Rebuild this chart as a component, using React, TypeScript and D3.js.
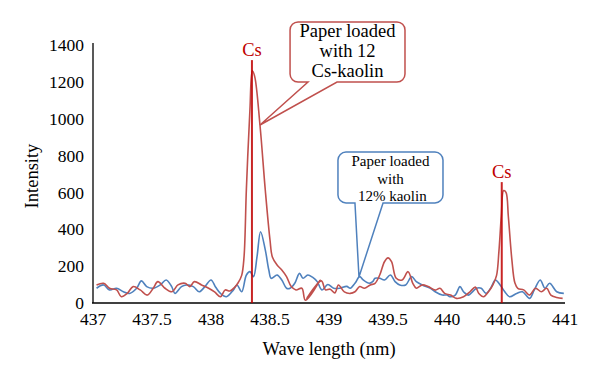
import React from "react";
import * as d3 from "d3";

const xTicks = [437, 437.5, 438, 438.5, 439, 439.5, 440, 440.5, 441];
const yTicks = [0, 200, 400, 600, 800, 1000, 1200, 1400];

// Paper loaded with 12 Cs-kaolin (red)
const redSeries: [number, number][] = [
  [437.03, 98], [437.09, 107], [437.14, 80], [437.2, 71], [437.24, 34], [437.29, 52],
  [437.34, 89], [437.4, 71], [437.46, 43], [437.51, 80], [437.55, 116], [437.61, 80],
  [437.67, 61], [437.72, 98], [437.78, 107], [437.82, 89], [437.86, 116], [437.92, 98],
  [437.98, 80], [438.03, 60], [438.08, 34], [438.12, 71], [438.16, 65], [438.2, 85],
  [438.23, 110], [438.26, 150], [438.28, 250], [438.3, 620], [438.33, 1050], [438.35, 1260],
  [438.37, 1230], [438.415, 966], [438.46, 613], [438.5, 342], [438.52, 250], [438.56, 206],
  [438.6, 179], [438.64, 143], [438.68, 89], [438.72, 71], [438.77, 80],
  [438.8, 15], [438.925, 125], [438.81, 25], [438.935, 120],
  [438.97, 71], [439.01, 75], [439.05, 55], [439.08, 98], [439.13, 60], [439.18, 52],
  [439.22, 61], [439.26, 89], [439.3, 80], [439.35, 98], [439.39, 107], [439.43, 152],
  [439.47, 224], [439.5, 245], [439.53, 224], [439.57, 134], [439.62, 125], [439.67, 170],
  [439.71, 107], [439.74, 80], [439.79, 98], [439.84, 89], [439.9, 70], [439.94, 80],
  [439.98, 52], [440.03, 43], [440.08, 25], [440.14, 34], [440.195, 61], [440.24, 86],
  [440.27, 52], [440.31, 34], [440.35, 60], [440.39, 100], [440.42, 150], [440.44, 280],
  [440.46, 470], [440.48, 610], [440.5, 600], [440.52, 468], [440.55, 233], [440.575, 110],
  [440.6, 80], [440.65, 71], [440.7, 43], [440.75, 80], [440.8, 61], [440.845, 80],
  [440.88, 43], [440.93, 30], [440.98, 25],
];

// Paper loaded with 12% kaolin (blue)
const blueSeries: [number, number][] = [
  [437.03, 80], [437.09, 98], [437.14, 71], [437.2, 80], [437.257, 61], [437.31, 52],
  [437.37, 80], [437.41, 120], [437.455, 89], [437.51, 80], [437.57, 98], [437.62, 125],
  [437.667, 89], [437.695, 52], [437.75, 89], [437.79, 98], [437.85, 89], [437.9, 61],
  [437.95, 90], [438.0, 125], [438.04, 85], [438.08, 52], [438.13, 34], [438.19, 71],
  [438.22, 98], [438.26, 61], [438.3, 152], [438.33, 170], [438.36, 143], [438.39, 251],
  [438.42, 387], [438.46, 288], [438.49, 179], [438.51, 134], [438.56, 152], [438.6, 125],
  [438.64, 80], [438.67, 80], [438.71, 107], [438.75, 161], [438.78, 134], [438.82, 152],
  [438.86, 140], [438.9, 116], [438.94, 71], [438.99, 100], [439.04, 80], [439.09, 80],
  [439.15, 90], [439.18, 80], [439.22, 107], [439.26, 143], [439.29, 125], [439.34, 107],
  [439.37, 116], [439.39, 134], [439.43, 134], [439.47, 125], [439.52, 152], [439.56, 116],
  [439.6, 98], [439.65, 98], [439.7, 143], [439.74, 116], [439.79, 98], [439.86, 80],
  [439.9, 61], [439.96, 43], [440.0, 43], [440.025, 34], [440.07, 43], [440.11, 89],
  [440.14, 61], [440.18, 43], [440.25, 80], [440.29, 80], [440.33, 52], [440.37, 80],
  [440.41, 125], [440.45, 98], [440.49, 61], [440.53, 34], [440.59, 52], [440.64, 61],
  [440.7, 25], [440.74, 71], [440.79, 125], [440.83, 80], [440.87, 107], [440.93, 61],
  [440.99, 52],
];

// Cs marker lines: wavelength, top intensity
const csLines: [number, number][] = [
  [438.347, 1318],
  [440.464, 656],
];

// Callouts: box [x0, x1, yTop, yBottom], pointer base [xa, xb], tip [x, y]
const redCallout = {
  box: [438.67, 439.644, 1525, 1199],
  base: [438.822, 439.068],
  tip: [438.415, 966],
  lines: ["Paper loaded", "with 12", "Cs-kaolin"],
};
const blueCallout = {
  box: [439.076, 439.966, 819, 543],
  base: [439.22, 439.458],
  tip: [439.254, 141],
  lines: ["Paper loaded", "with", " 12% kaolin"],
};

const W = 600;
const H = 381;
const FONT = "Liberation Serif, DejaVu Serif, serif";
const RED = "#c0504d";
const BLUE = "#4f81bd";
const DARKRED = "#c00000";

export default function App() {
  const x = d3.scaleLinear().domain([437, 441]).range([93, 565]);
  const y = d3.scaleLinear().domain([0, 1400]).range([303, 45]);

  const line = d3
    .line<[number, number]>()
    .x((d) => x(d[0]))
    .y((d) => y(d[1]))
    .curve(d3.curveCatmullRom.alpha(0.5));

  const calloutPath = (c: typeof redCallout) => {
    const [bx0, bx1, byt, byb] = c.box;
    const x0 = x(bx0), x1 = x(bx1), y0 = y(byt), y1 = y(byb);
    const r = 8;
    const pa = x(c.base[0]), pb = x(c.base[1]);
    const tx = x(c.tip[0]), ty = y(c.tip[1]);
    return `M${x0 + r},${y0} H${x1 - r} A${r},${r} 0 0 1 ${x1},${y0 + r} V${y1 - r} A${r},${r} 0 0 1 ${x1 - r},${y1} H${pb} L${tx},${ty} L${pa},${y1} H${x0 + r} A${r},${r} 0 0 1 ${x0},${y1 - r} V${y0 + r} A${r},${r} 0 0 1 ${x0 + r},${y0} Z`;
  };

  const textStyle = { fontFamily: FONT, whiteSpace: "pre" as const };

  const calloutText = (c: typeof redCallout, lh: number, first: number, fs: number) => {
    const cx = (x(c.box[0]) + x(c.box[1])) / 2;
    const top = y(c.box[2]);
    return c.lines.map((t, i) => (
      <text
        key={i}
        x={cx}
        y={top + first + i * lh}
        textAnchor="middle"
        fontSize={fs}
        fill="#000"
        style={textStyle}
      >
        {t}
      </text>
    ));
  };

  return (
    <svg
      width={W}
      height={H}
      style={{ position: "absolute", left: 0, top: 0, background: "#fff", fontFamily: FONT }}
    >
      <rect width={W} height={H} fill="#fff" />
      {/* y tick labels */}
      {yTicks.map((t) => (
        <text key={t} x={84} y={y(t)} dy="0.35em" textAnchor="end" fontSize={17.5} fill="#000" style={textStyle}>
          {t}
        </text>
      ))}
      {/* x tick labels */}
      {xTicks.map((t) => (
        <text key={t} x={x(t)} y={325} textAnchor="middle" fontSize={17.5} fill="#000" style={textStyle}>
          {String(t)}
        </text>
      ))}
      {/* axis titles */}
      <text x={(x(437) + x(441)) / 2} y={355} textAnchor="middle" fontSize={18.5} fill="#000" style={textStyle}>
        Wave length (nm)
      </text>
      <text
        transform={`translate(38,${(y(0) + y(1400)) / 2 + 2}) rotate(-90)`}
        textAnchor="middle"
        fontSize={18.5}
        fill="#000"
        style={textStyle}
      >
        Intensity
      </text>
      {/* axes */}
      <line x1={x(437)} x2={x(437)} y1={y(1400) - 2} y2={y(0)} stroke="#595959" strokeWidth={2} />
      <line x1={x(437) - 1} x2={x(441)} y1={y(0)} y2={y(0)} stroke="#000" strokeWidth={1.5} />
      {/* series */}
      <path d={line(blueSeries) || ""} fill="none" stroke={BLUE} strokeWidth={1.6} />
      <path d={line(redSeries) || ""} fill="none" stroke={RED} strokeWidth={1.6} />
      {/* Cs lines */}
      {csLines.map(([w, top], i) => (
        <g key={i}>
          <line x1={x(w)} x2={x(w)} y1={y(top)} y2={y(0)} stroke={DARKRED} strokeWidth={2} opacity={0.85} />
          <text x={x(w)} y={y(top) - 4} textAnchor="middle" fontSize={18.5} fill={DARKRED} style={textStyle}>
            Cs
          </text>
        </g>
      ))}
      {/* callouts */}
      <path d={calloutPath(redCallout)} fill="#fff" stroke={RED} strokeWidth={1.5} />
      {calloutText(redCallout, 20, 15, 18.5)}
      <path d={calloutPath(blueCallout)} fill="#fff" stroke={BLUE} strokeWidth={1.5} />
      {calloutText(blueCallout, 17.5, 14, 15)}
    </svg>
  );
}
